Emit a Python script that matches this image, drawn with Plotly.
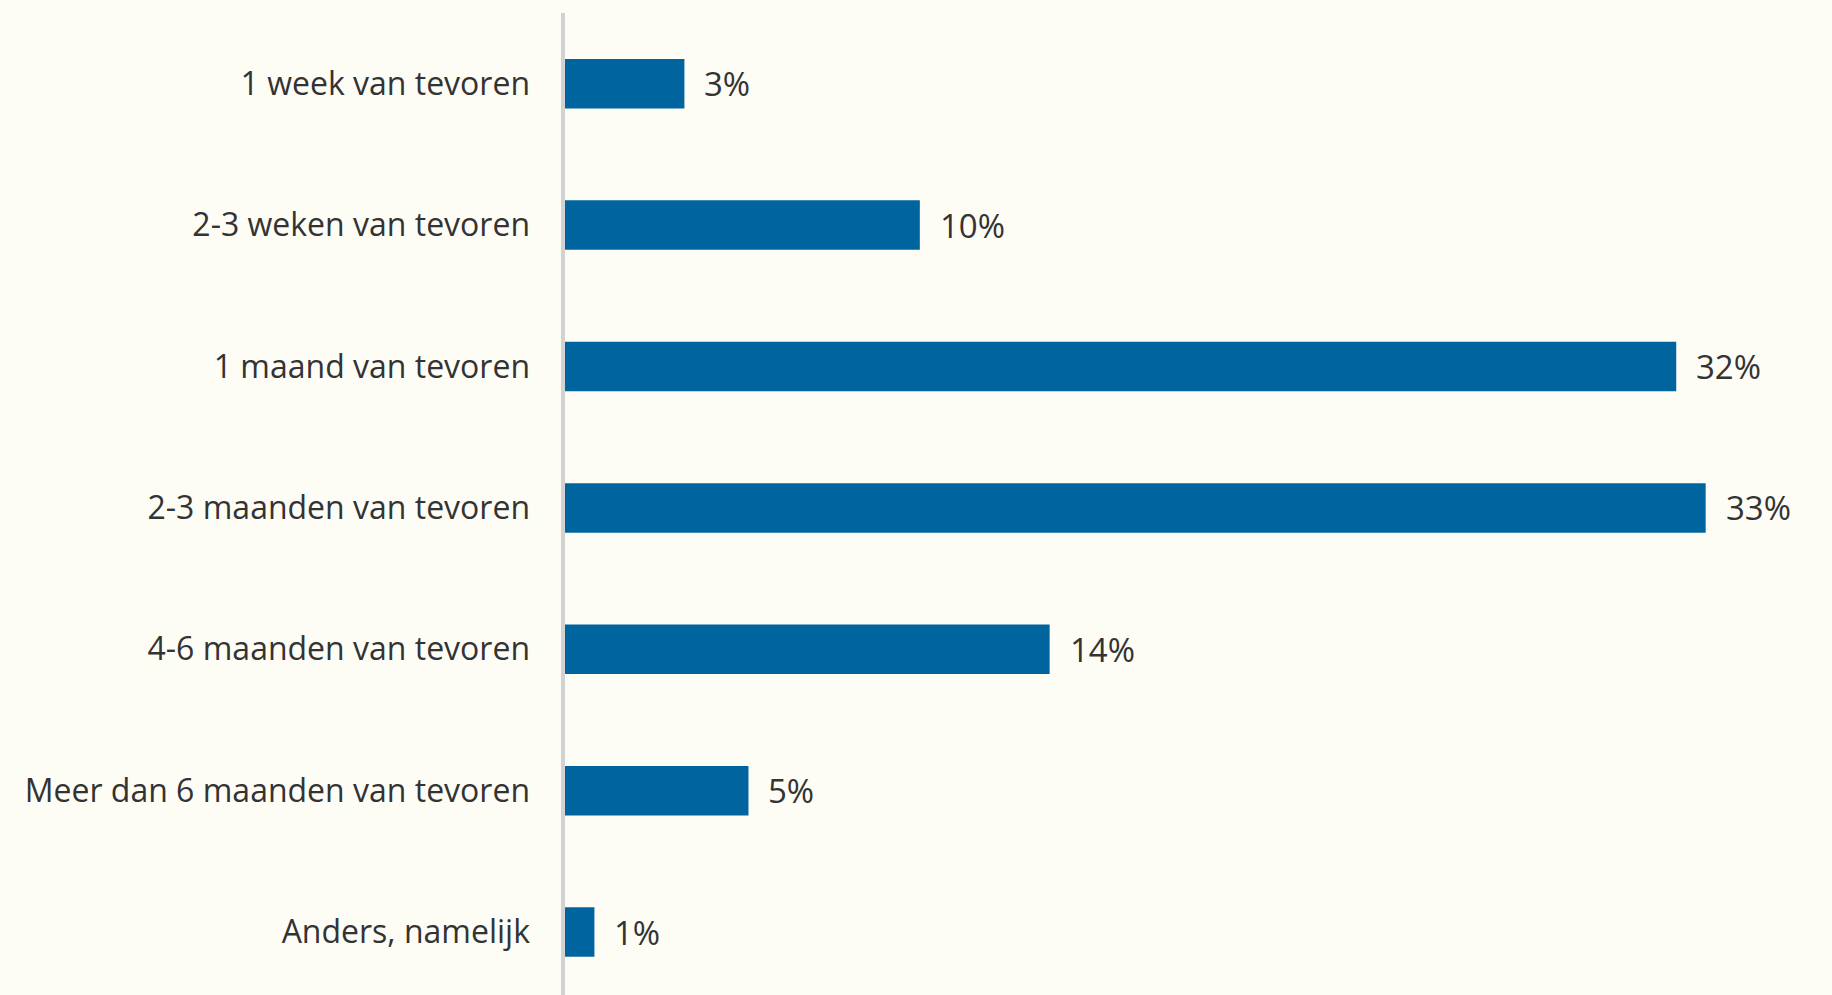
import plotly.graph_objects as go

categories = [
    "1 week van tevoren",
    "2-3 weken van tevoren",
    "1 maand van tevoren",
    "2-3 maanden van tevoren",
    "4-6 maanden van tevoren",
    "Meer dan 6 maanden van tevoren",
    "Anders, namelijk",
]
values = [3.45, 10.25, 32.1, 32.95, 14.0, 5.3, 0.85]
labels = ["3%", "10%", "32%", "33%", "14%", "5%", "1%"]

BAR = "#00649F"
BG = "#FDFDF6"
FONT = "Open Sans"

fig = go.Figure(go.Bar(
    y=categories, x=values, orientation="h",
    marker=dict(color=BAR, line=dict(width=0)),
    width=0.35, hoverinfo="skip",
))

annotations = [
    dict(x=v, y=c, text=t, xref="x", yref="y", xanchor="left", yanchor="middle",
         xshift=18, showarrow=False, font=dict(family=FONT, size=33, color="#333333"))
    for c, v, t in zip(categories, values, labels)
]

fig.update_layout(
    width=1832, height=995,
    margin=dict(l=565, r=0, t=13, b=0),
    paper_bgcolor=BG, plot_bgcolor=BG,
    showlegend=False,
    annotations=annotations,
    font=dict(family=FONT, size=32, color="#333333"),
    xaxis=dict(range=[0, 36.6], showgrid=False, zeroline=False, showticklabels=False,
               showline=False, fixedrange=True),
    yaxis=dict(categoryorder="array", categoryarray=categories,
               range=[6.445, -0.5], showgrid=False, zeroline=False,
               showline=False, ticks="", ticklabelstandoff=34,
               tickfont=dict(family=FONT, size=32, color="#333333")),
    shapes=[dict(type="line", xref="paper", yref="paper", x0=-0.0016, x1=-0.0016,
                 y0=0, y1=1, line=dict(color="#D2D2D2", width=4), layer="above")],
)

fig.write_html("out.html")
